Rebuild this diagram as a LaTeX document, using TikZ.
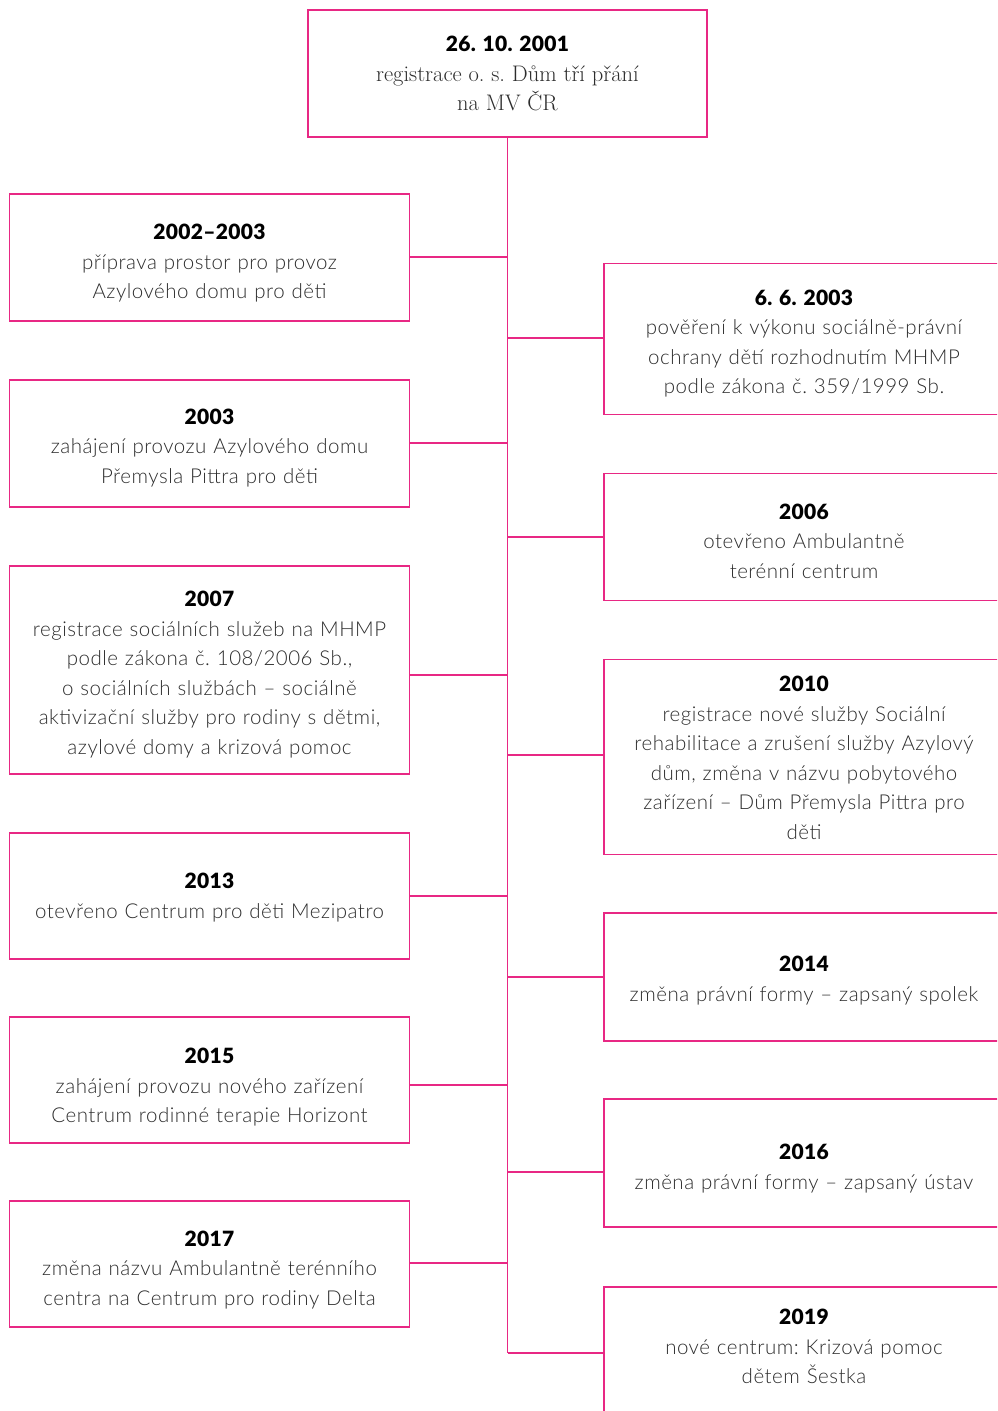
\documentclass[tikz,border=0pt]{standalone}
\usepackage{fontspec}
\usepackage{tikz}
\newfontfamily\latolight{Lato Light}[LetterSpace=2.5]
\newfontfamily\latoblack{Lato Black}[LetterSpace=1.5]
\definecolor{magentaline}{RGB}{232,40,132}
\definecolor{bodygray}{RGB}{45,45,45}
\newcommand{\yrtext}[1]{{\latoblack\fontsize{21}{29.5}\selectfont\color{black}#1}\\}
\newcommand{\yr}[2][27pt]{\rule{0pt}{#1}\yrtext{#2}}
\frenchspacing

\tikzset{
  event/.style={draw=magentaline,line width=1.6pt,text width=380pt,inner xsep=10pt,inner ysep=0pt,
    align=center,text=bodygray,font=\latolight\fontsize{20.5}{29.5}\selectfont},
  link/.style={draw=magentaline,line width=1.6pt}
}

\begin{document}
\begin{tikzpicture}[x=1pt,y=-1pt]

  \path[use as bounding box] (0,0) rectangle (997,1411);
  \clip (0,0) rectangle (997,1411);

  \node[event,text width=379pt,minimum height=127pt] (reg) at (507.5,73.5)
    {\yrtext{26. 10. 2001}{\rmfamily\fontsize{22.5}{29.5}\selectfont registrace o. s. Dům tří přání\\ na MV ČR}};

  % left column
  \node[event,minimum height=127pt] (e02) at (209.5,257.5)
    {\yr{2002–2003}příprava prostor pro provoz\\ Azylového domu pro děti};
  \node[event,minimum height=127pt] (e03) at (209.5,443.5)
    {\yr[24pt]{2003}zahájení provozu Azylového domu\\ Přemysla Pittra pro děti};
  \node[event,minimum height=208pt] (e07) at (209.5,670)
    {\yr[25pt]{2007}registrace sociálních služeb na MHMP\\ podle zákona č. 108/2006 Sb.,\\ o sociálních službách – sociálně\\ aktivizační služby pro rodiny s dětmi,\\ azylové domy a krizová pomoc};
  \node[event,minimum height=126pt] (e13) at (209.5,896)
    {\yr[19pt]{2013}otevřeno Centrum pro děti Mezipatro};
  \node[event,minimum height=126pt] (e15) at (209.5,1080)
    {\yr[30pt]{2015}zahájení provozu nového zařízení\\ Centrum rodinné terapie Horizont};
  \node[event,minimum height=126pt] (e17) at (209.5,1264)
    {\yr{2017}změna názvu Ambulantně terénního\\ centra na Centrum pro rodiny Delta};

  % right column
  \node[event,minimum height=151pt] (e03b) at (804,339)
    {\yr[25pt]{6. 6. 2003}pověření k výkonu sociálně-právní\\ ochrany dětí rozhodnutím MHMP\\ podle zákona č. 359/1999 Sb.};
  \node[event,minimum height=127pt] (e06) at (804,537)
    {\yr[24pt]{2006}otevřeno Ambulantně\\ terénní centrum};
  \node[event,minimum height=195pt] (e10) at (804,757)
    {\yr[17pt]{2010}registrace nové služby Sociální\\ rehabilitace a zrušení služby Azylový\\ dům, změna v názvu pobytového\\ zařízení – Dům Přemysla Pittra pro\\ děti};
  \node[event,minimum height=128pt] (e14) at (804,977)
    {\yr[23pt]{2014}změna právní formy – zapsaný spolek};
  \node[event,minimum height=128pt] (e16) at (804,1163)
    {\yr{2016}změna právní formy – zapsaný ústav};
  \node[event,minimum height=132pt] (e19) at (804,1353)
    {\yr[0pt]{2019}nové centrum: Krizová pomoc\\ dětem Šestka\rule[-13pt]{0pt}{0pt}};

  % spine and branches
  \coordinate (end) at (507.5,1353);
  \draw[link] (reg.south) -- (end);
  \coordinate (s02) at (507.5,257);
  \coordinate (s03) at (507.5,443);
  \coordinate (s07) at (507.5,675);
  \coordinate (s13) at (507.5,896);
  \coordinate (s15) at (507.5,1085);
  \coordinate (s17) at (507.5,1263);
  \coordinate (s03b) at (507.5,338);
  \coordinate (s06) at (507.5,537);
  \coordinate (s10) at (507.5,755);
  \coordinate (s14) at (507.5,977);
  \coordinate (s16) at (507.5,1172);
  \draw[link] (s02) -- (s02 -| e02.east);
  \draw[link] (s03) -- (s03 -| e03.east);
  \draw[link] (s07) -- (s07 -| e07.east);
  \draw[link] (s13) -- (s13 -| e13.east);
  \draw[link] (s15) -- (s15 -| e15.east);
  \draw[link] (s17) -- (s17 -| e17.east);
  \draw[link] (s03b) -- (s03b -| e03b.west);
  \draw[link] (s06) -- (s06 -| e06.west);
  \draw[link] (s10) -- (s10 -| e10.west);
  \draw[link] (s14) -- (s14 -| e14.west);
  \draw[link] (s16) -- (s16 -| e16.west);
  \draw[link] (end) -- (end -| e19.west);

\end{tikzpicture}
\end{document}
